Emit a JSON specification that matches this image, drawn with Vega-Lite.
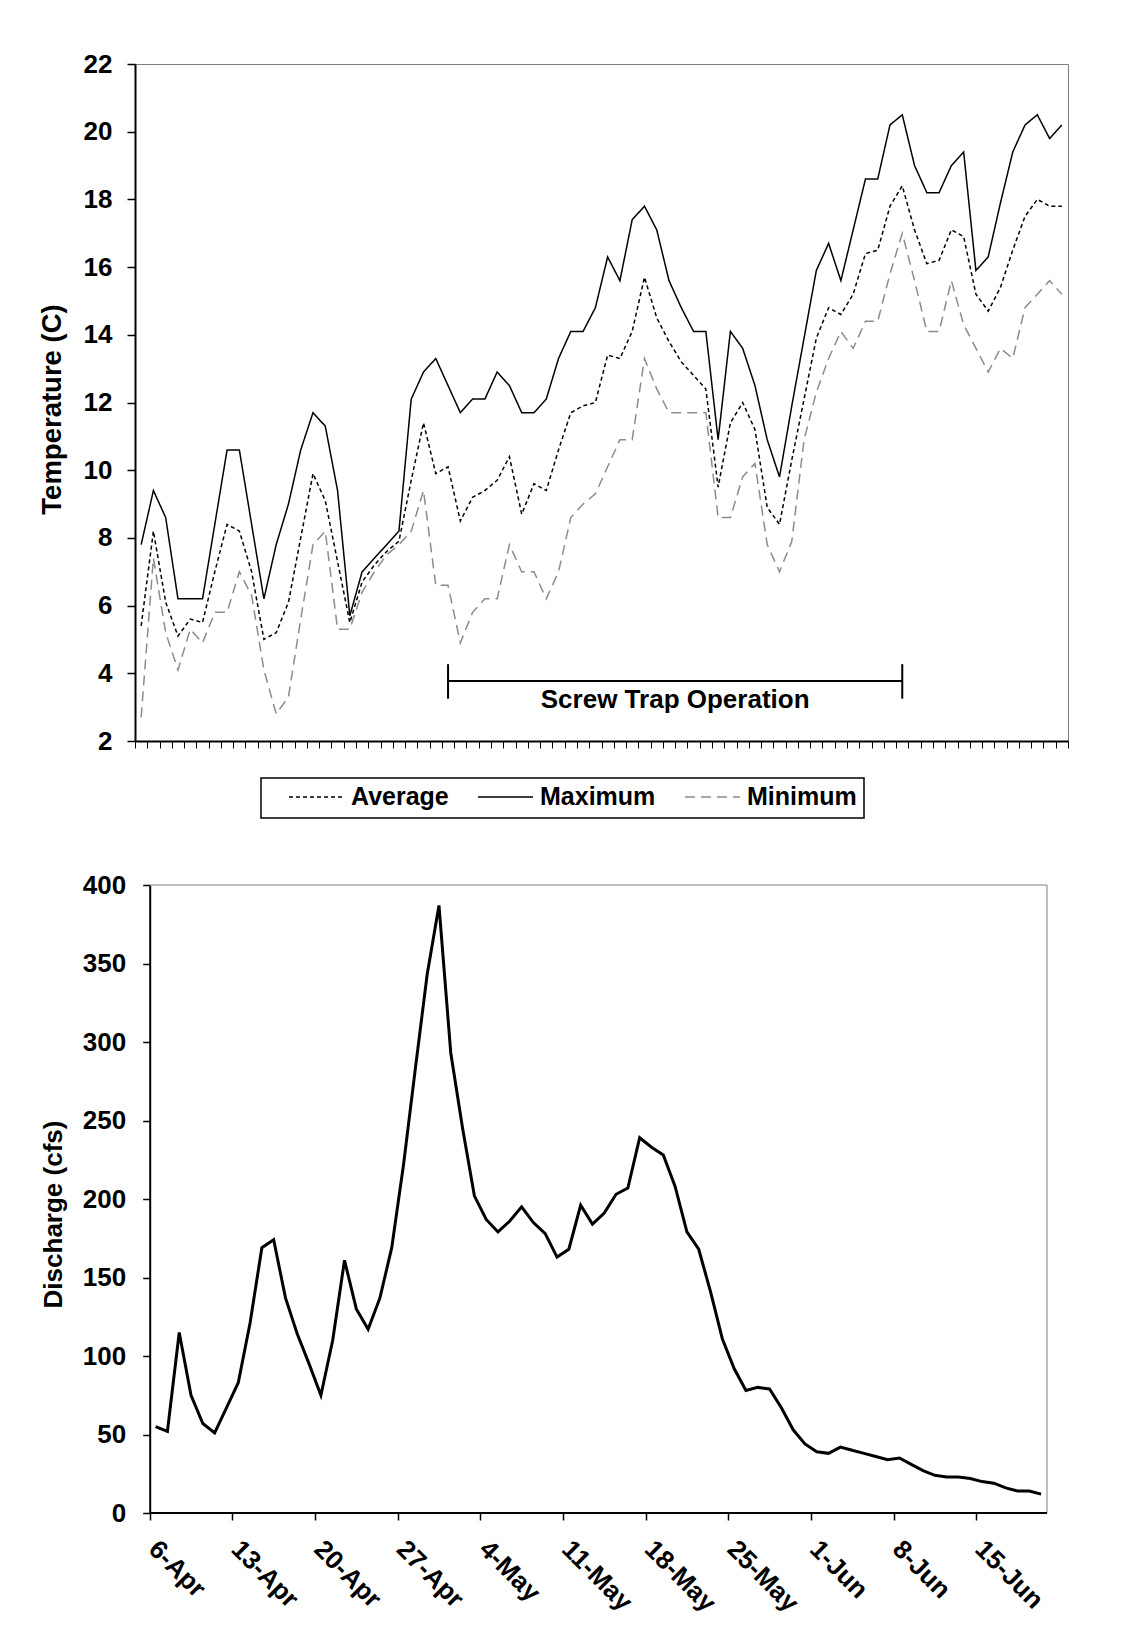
{
  "$schema": "https://vega.github.io/schema/vega-lite/v6.json",
  "background": "white",
  "padding": {"left": 37, "top": 50, "right": 0, "bottom": 0},
  "config": {
    "font": "Liberation Sans",
    "view": {"stroke": "#808080", "strokeWidth": 1},
    "axis": {
      "labelFont": "Liberation Sans", "labelFontWeight": "bold", "labelFontSize": 26, "labelColor": "black",
      "titleFont": "Liberation Sans", "titleFontWeight": "bold", "titleFontSize": 27, "titleColor": "black",
      "titleBaseline": "alphabetic",
      "domainColor": "black", "domainWidth": 2, "tickColor": "black", "tickWidth": 1.5, "grid": false
    },
    "legend": {
      "orient": "none", "legendX": 126, "legendY": 714, "direction": "horizontal",
      "labelFont": "Liberation Sans", "labelFontSize": 25, "labelFontWeight": "bold", "labelColor": "black",
      "titleFont": "Liberation Sans", "titleFontSize": 25, "titleOrient": "left", "titlePadding": 20,
      "symbolType": "stroke", "symbolSize": 3025, "symbolStrokeWidth": 1.5, "clipHeight": 24,
      "strokeColor": "black", "strokeWidth": 1.5, "padding": 7, "columnPadding": 28, "labelOffset": 6
    }
  },
  "datasets": {
    "temperature": [
      {"date": "2003-04-06T12:00:00", "Average": 5.4, "Maximum": 7.8, "Minimum": 2.7},
      {"date": "2003-04-07T12:00:00", "Average": 8.2, "Maximum": 9.4, "Minimum": 7.4},
      {"date": "2003-04-08T12:00:00", "Average": 6.1, "Maximum": 8.6, "Minimum": 5.2},
      {"date": "2003-04-09T12:00:00", "Average": 5.1, "Maximum": 6.2, "Minimum": 4.1},
      {"date": "2003-04-10T12:00:00", "Average": 5.6, "Maximum": 6.2, "Minimum": 5.3},
      {"date": "2003-04-11T12:00:00", "Average": 5.5, "Maximum": 6.2, "Minimum": 4.9},
      {"date": "2003-04-12T12:00:00", "Average": 7.0, "Maximum": 8.4, "Minimum": 5.8},
      {"date": "2003-04-13T12:00:00", "Average": 8.4, "Maximum": 10.6, "Minimum": 5.8},
      {"date": "2003-04-14T12:00:00", "Average": 8.2, "Maximum": 10.6, "Minimum": 7.0},
      {"date": "2003-04-15T12:00:00", "Average": 7.0, "Maximum": 8.4, "Minimum": 6.3},
      {"date": "2003-04-16T12:00:00", "Average": 5.0, "Maximum": 6.2, "Minimum": 4.1},
      {"date": "2003-04-17T12:00:00", "Average": 5.2, "Maximum": 7.8, "Minimum": 2.8},
      {"date": "2003-04-18T12:00:00", "Average": 6.1, "Maximum": 9.0, "Minimum": 3.3},
      {"date": "2003-04-19T12:00:00", "Average": 8.0, "Maximum": 10.6, "Minimum": 5.6},
      {"date": "2003-04-20T12:00:00", "Average": 9.9, "Maximum": 11.7, "Minimum": 7.8},
      {"date": "2003-04-21T12:00:00", "Average": 9.1, "Maximum": 11.3, "Minimum": 8.2},
      {"date": "2003-04-22T12:00:00", "Average": 7.3, "Maximum": 9.4, "Minimum": 5.3},
      {"date": "2003-04-23T12:00:00", "Average": 5.5, "Maximum": 5.7, "Minimum": 5.3},
      {"date": "2003-04-24T12:00:00", "Average": 6.7, "Maximum": 7.0, "Minimum": 6.4},
      {"date": "2003-04-25T12:00:00", "Average": 7.2, "Maximum": 7.4, "Minimum": 7.0},
      {"date": "2003-04-26T12:00:00", "Average": 7.6, "Maximum": 7.8, "Minimum": 7.5},
      {"date": "2003-04-27T12:00:00", "Average": 7.9, "Maximum": 8.2, "Minimum": 7.8},
      {"date": "2003-04-28T12:00:00", "Average": 9.7, "Maximum": 12.1, "Minimum": 8.2},
      {"date": "2003-04-29T12:00:00", "Average": 11.4, "Maximum": 12.9, "Minimum": 9.4},
      {"date": "2003-04-30T12:00:00", "Average": 9.9, "Maximum": 13.3, "Minimum": 6.6},
      {"date": "2003-05-01T12:00:00", "Average": 10.1, "Maximum": 12.5, "Minimum": 6.6},
      {"date": "2003-05-02T12:00:00", "Average": 8.5, "Maximum": 11.7, "Minimum": 4.9},
      {"date": "2003-05-03T12:00:00", "Average": 9.2, "Maximum": 12.1, "Minimum": 5.8},
      {"date": "2003-05-04T12:00:00", "Average": 9.4, "Maximum": 12.1, "Minimum": 6.2},
      {"date": "2003-05-05T12:00:00", "Average": 9.7, "Maximum": 12.9, "Minimum": 6.2},
      {"date": "2003-05-06T12:00:00", "Average": 10.4, "Maximum": 12.5, "Minimum": 7.8},
      {"date": "2003-05-07T12:00:00", "Average": 8.7, "Maximum": 11.7, "Minimum": 7.0},
      {"date": "2003-05-08T12:00:00", "Average": 9.6, "Maximum": 11.7, "Minimum": 7.0},
      {"date": "2003-05-09T12:00:00", "Average": 9.4, "Maximum": 12.1, "Minimum": 6.2},
      {"date": "2003-05-10T12:00:00", "Average": 10.6, "Maximum": 13.3, "Minimum": 7.0},
      {"date": "2003-05-11T12:00:00", "Average": 11.7, "Maximum": 14.1, "Minimum": 8.6},
      {"date": "2003-05-12T12:00:00", "Average": 11.9, "Maximum": 14.1, "Minimum": 9.0},
      {"date": "2003-05-13T12:00:00", "Average": 12.0, "Maximum": 14.8, "Minimum": 9.3},
      {"date": "2003-05-14T12:00:00", "Average": 13.4, "Maximum": 16.3, "Minimum": 10.1},
      {"date": "2003-05-15T12:00:00", "Average": 13.3, "Maximum": 15.6, "Minimum": 10.9},
      {"date": "2003-05-16T12:00:00", "Average": 14.1, "Maximum": 17.4, "Minimum": 10.9},
      {"date": "2003-05-17T12:00:00", "Average": 15.7, "Maximum": 17.8, "Minimum": 13.3},
      {"date": "2003-05-18T12:00:00", "Average": 14.5, "Maximum": 17.1, "Minimum": 12.4},
      {"date": "2003-05-19T12:00:00", "Average": 13.8, "Maximum": 15.6, "Minimum": 11.7},
      {"date": "2003-05-20T12:00:00", "Average": 13.2, "Maximum": 14.8, "Minimum": 11.7},
      {"date": "2003-05-21T12:00:00", "Average": 12.8, "Maximum": 14.1, "Minimum": 11.7},
      {"date": "2003-05-22T12:00:00", "Average": 12.4, "Maximum": 14.1, "Minimum": 11.7},
      {"date": "2003-05-23T12:00:00", "Average": 9.5, "Maximum": 10.9, "Minimum": 8.6},
      {"date": "2003-05-24T12:00:00", "Average": 11.4, "Maximum": 14.1, "Minimum": 8.6},
      {"date": "2003-05-25T12:00:00", "Average": 12.0, "Maximum": 13.6, "Minimum": 9.8},
      {"date": "2003-05-26T12:00:00", "Average": 11.2, "Maximum": 12.5, "Minimum": 10.2},
      {"date": "2003-05-27T12:00:00", "Average": 8.9, "Maximum": 10.9, "Minimum": 7.8},
      {"date": "2003-05-28T12:00:00", "Average": 8.4, "Maximum": 9.8, "Minimum": 7.0},
      {"date": "2003-05-29T12:00:00", "Average": 10.3, "Maximum": 11.9, "Minimum": 7.9},
      {"date": "2003-05-30T12:00:00", "Average": 12.1, "Maximum": 13.9, "Minimum": 10.9},
      {"date": "2003-05-31T12:00:00", "Average": 13.9, "Maximum": 15.9, "Minimum": 12.3},
      {"date": "2003-06-01T12:00:00", "Average": 14.8, "Maximum": 16.7, "Minimum": 13.3},
      {"date": "2003-06-02T12:00:00", "Average": 14.6, "Maximum": 15.6, "Minimum": 14.1},
      {"date": "2003-06-03T12:00:00", "Average": 15.2, "Maximum": 17.1, "Minimum": 13.6},
      {"date": "2003-06-04T12:00:00", "Average": 16.4, "Maximum": 18.6, "Minimum": 14.4},
      {"date": "2003-06-05T12:00:00", "Average": 16.5, "Maximum": 18.6, "Minimum": 14.4},
      {"date": "2003-06-06T12:00:00", "Average": 17.8, "Maximum": 20.2, "Minimum": 15.8},
      {"date": "2003-06-07T12:00:00", "Average": 18.4, "Maximum": 20.5, "Minimum": 17.0},
      {"date": "2003-06-08T12:00:00", "Average": 17.1, "Maximum": 19.0, "Minimum": 15.6},
      {"date": "2003-06-09T12:00:00", "Average": 16.1, "Maximum": 18.2, "Minimum": 14.1},
      {"date": "2003-06-10T12:00:00", "Average": 16.2, "Maximum": 18.2, "Minimum": 14.1},
      {"date": "2003-06-11T12:00:00", "Average": 17.1, "Maximum": 19.0, "Minimum": 15.6},
      {"date": "2003-06-12T12:00:00", "Average": 16.9, "Maximum": 19.4, "Minimum": 14.3},
      {"date": "2003-06-13T12:00:00", "Average": 15.2, "Maximum": 15.9, "Minimum": 13.6},
      {"date": "2003-06-14T12:00:00", "Average": 14.7, "Maximum": 16.3, "Minimum": 12.9},
      {"date": "2003-06-15T12:00:00", "Average": 15.4, "Maximum": 17.9, "Minimum": 13.6},
      {"date": "2003-06-16T12:00:00", "Average": 16.5, "Maximum": 19.4, "Minimum": 13.3},
      {"date": "2003-06-17T12:00:00", "Average": 17.5, "Maximum": 20.2, "Minimum": 14.8},
      {"date": "2003-06-18T12:00:00", "Average": 18.0, "Maximum": 20.5, "Minimum": 15.2},
      {"date": "2003-06-19T12:00:00", "Average": 17.8, "Maximum": 19.8, "Minimum": 15.6},
      {"date": "2003-06-20T12:00:00", "Average": 17.8, "Maximum": 20.2, "Minimum": 15.2}
    ],
    "discharge": [
      {"date": "2003-04-06T12:00:00", "cfs": 55},
      {"date": "2003-04-07T12:00:00", "cfs": 52},
      {"date": "2003-04-08T12:00:00", "cfs": 115},
      {"date": "2003-04-09T12:00:00", "cfs": 75},
      {"date": "2003-04-10T12:00:00", "cfs": 57},
      {"date": "2003-04-11T12:00:00", "cfs": 51},
      {"date": "2003-04-12T12:00:00", "cfs": 67},
      {"date": "2003-04-13T12:00:00", "cfs": 83},
      {"date": "2003-04-14T12:00:00", "cfs": 121},
      {"date": "2003-04-15T12:00:00", "cfs": 169},
      {"date": "2003-04-16T12:00:00", "cfs": 174},
      {"date": "2003-04-17T12:00:00", "cfs": 137},
      {"date": "2003-04-18T12:00:00", "cfs": 114},
      {"date": "2003-04-19T12:00:00", "cfs": 95},
      {"date": "2003-04-20T12:00:00", "cfs": 75},
      {"date": "2003-04-21T12:00:00", "cfs": 110},
      {"date": "2003-04-22T12:00:00", "cfs": 161},
      {"date": "2003-04-23T12:00:00", "cfs": 130},
      {"date": "2003-04-24T12:00:00", "cfs": 117},
      {"date": "2003-04-25T12:00:00", "cfs": 137},
      {"date": "2003-04-26T12:00:00", "cfs": 169},
      {"date": "2003-04-27T12:00:00", "cfs": 222},
      {"date": "2003-04-28T12:00:00", "cfs": 283},
      {"date": "2003-04-29T12:00:00", "cfs": 343},
      {"date": "2003-04-30T12:00:00", "cfs": 387},
      {"date": "2003-05-01T12:00:00", "cfs": 293},
      {"date": "2003-05-02T12:00:00", "cfs": 245},
      {"date": "2003-05-03T12:00:00", "cfs": 202},
      {"date": "2003-05-04T12:00:00", "cfs": 187},
      {"date": "2003-05-05T12:00:00", "cfs": 179},
      {"date": "2003-05-06T12:00:00", "cfs": 186},
      {"date": "2003-05-07T12:00:00", "cfs": 195},
      {"date": "2003-05-08T12:00:00", "cfs": 185},
      {"date": "2003-05-09T12:00:00", "cfs": 178},
      {"date": "2003-05-10T12:00:00", "cfs": 163},
      {"date": "2003-05-11T12:00:00", "cfs": 168},
      {"date": "2003-05-12T12:00:00", "cfs": 196},
      {"date": "2003-05-13T12:00:00", "cfs": 184},
      {"date": "2003-05-14T12:00:00", "cfs": 191},
      {"date": "2003-05-15T12:00:00", "cfs": 203},
      {"date": "2003-05-16T12:00:00", "cfs": 207},
      {"date": "2003-05-17T12:00:00", "cfs": 239},
      {"date": "2003-05-18T12:00:00", "cfs": 233},
      {"date": "2003-05-19T12:00:00", "cfs": 228},
      {"date": "2003-05-20T12:00:00", "cfs": 208},
      {"date": "2003-05-21T12:00:00", "cfs": 179},
      {"date": "2003-05-22T12:00:00", "cfs": 168},
      {"date": "2003-05-23T12:00:00", "cfs": 141},
      {"date": "2003-05-24T12:00:00", "cfs": 111},
      {"date": "2003-05-25T12:00:00", "cfs": 92},
      {"date": "2003-05-26T12:00:00", "cfs": 78},
      {"date": "2003-05-27T12:00:00", "cfs": 80},
      {"date": "2003-05-28T12:00:00", "cfs": 79},
      {"date": "2003-05-29T12:00:00", "cfs": 67},
      {"date": "2003-05-30T12:00:00", "cfs": 53},
      {"date": "2003-05-31T12:00:00", "cfs": 44},
      {"date": "2003-06-01T12:00:00", "cfs": 39},
      {"date": "2003-06-02T12:00:00", "cfs": 38},
      {"date": "2003-06-03T12:00:00", "cfs": 42},
      {"date": "2003-06-04T12:00:00", "cfs": 40},
      {"date": "2003-06-05T12:00:00", "cfs": 38},
      {"date": "2003-06-06T12:00:00", "cfs": 36},
      {"date": "2003-06-07T12:00:00", "cfs": 34},
      {"date": "2003-06-08T12:00:00", "cfs": 35},
      {"date": "2003-06-09T12:00:00", "cfs": 31},
      {"date": "2003-06-10T12:00:00", "cfs": 27},
      {"date": "2003-06-11T12:00:00", "cfs": 24},
      {"date": "2003-06-12T12:00:00", "cfs": 23},
      {"date": "2003-06-13T12:00:00", "cfs": 23},
      {"date": "2003-06-14T12:00:00", "cfs": 22},
      {"date": "2003-06-15T12:00:00", "cfs": 20},
      {"date": "2003-06-16T12:00:00", "cfs": 19},
      {"date": "2003-06-17T12:00:00", "cfs": 16},
      {"date": "2003-06-18T12:00:00", "cfs": 14},
      {"date": "2003-06-19T12:00:00", "cfs": 14},
      {"date": "2003-06-20T12:00:00", "cfs": 12}
    ],
    "trap": [
      {"start": "2003-05-01T12:00:00", "end": "2003-06-07T12:00:00", "mid": "2003-05-20T00:00:00", "label": "Screw Trap Operation"}
    ],
    "frame": [
      {"edge": "plot frame"}
    ]
  },
  "spacing": 117,
  "vconcat": [
    {
      "width": 933,
      "height": 677,
      "layer": [
        {
          "data": {"name": "temperature"},
          "transform": [{"fold": ["Average", "Maximum", "Minimum"], "as": ["series", "temp"]}],
          "mark": {"type": "line", "strokeWidth": 1.5},
          "encoding": {
            "x": {
              "field": "date", "type": "temporal",
              "scale": {"domain": [{"year": 2003, "month": 4, "date": 6}, {"year": 2003, "month": 6, "date": 21}]},
              "axis": {"title": null, "labels": false, "tickCount": {"interval": "day", "step": 1}, "tickSize": 7, "tickWidth": 1}
            },
            "y": {
              "field": "temp", "type": "quantitative",
              "scale": {"domain": [2, 22]},
              "axis": {
                "title": "Temperature (C)", "values": [2, 4, 6, 8, 10, 12, 14, 16, 18, 20, 22],
                "tickSize": 8, "labelPadding": 15, "titleFontSize": 27.5, "titleX": -75, "titleY": 345
              }
            },
            "color": {
              "field": "series", "type": "nominal",
              "scale": {"domain": ["Average", "Maximum", "Minimum"], "range": ["black", "black", "#8c8c8c"]},
              "legend": {"title": "\u2002", "labelExpr": "datum.label == 'Minimum' ? 'Minimum\u00a0\u00a0' : datum.label"}
            },
            "strokeDash": {
              "field": "series", "type": "nominal",
              "scale": {"domain": ["Average", "Maximum", "Minimum"], "range": [[4, 3], [1, 0], [10, 6]]},
              "legend": {"title": "\u2002", "labelExpr": "datum.label == 'Minimum' ? 'Minimum\u00a0\u00a0' : datum.label"}
            }
          }
        },
        {
          "data": {"name": "trap"},
          "mark": {"type": "rule", "color": "black", "strokeWidth": 2},
          "encoding": {
            "x": {"field": "start", "type": "temporal"},
            "x2": {"field": "end"},
            "y": {"datum": 3.77}
          }
        },
        {
          "data": {"name": "trap"},
          "transform": [{"fold": ["start", "end"], "as": ["edge", "at"]}],
          "mark": {"type": "rule", "color": "black", "strokeWidth": 2},
          "encoding": {
            "x": {"field": "at", "type": "temporal"},
            "y": {"datum": 3.25},
            "y2": {"datum": 4.27}
          }
        },
        {
          "data": {"name": "trap"},
          "mark": {"type": "text", "font": "Liberation Sans", "fontWeight": "bold", "fontSize": 26, "color": "black", "baseline": "alphabetic", "align": "center"},
          "encoding": {
            "x": {"field": "mid", "type": "temporal"},
            "y": {"datum": 2.97},
            "text": {"field": "label"}
          }
        }
      ]
    },
    {
      "width": 912,
      "height": 628,
      "view": {"stroke": null},
      "layer": [
        {
          "data": {"name": "frame"},
          "mark": {"type": "rule", "color": "#808080", "strokeWidth": 1},
          "encoding": {
            "x": {"datum": {"year": 2003, "month": 4, "date": 6}, "type": "temporal"},
            "x2": {"datum": {"year": 2003, "month": 6, "date": 21}},
            "y": {"datum": 400, "type": "quantitative"}
          }
        },
        {
          "data": {"name": "frame"},
          "mark": {"type": "rule", "color": "#808080", "strokeWidth": 1},
          "encoding": {
            "x": {"datum": {"year": 2003, "month": 6, "date": 21}, "type": "temporal"},
            "y": {"datum": 0, "type": "quantitative"},
            "y2": {"datum": 400}
          }
        },
        {
          "data": {"name": "discharge"},
          "mark": {"type": "line", "color": "black", "strokeWidth": 3},
          "encoding": {
            "x": {
              "field": "date", "type": "temporal",
              "scale": {"domain": [{"year": 2003, "month": 4, "date": 4, "hours": 18, "minutes": 6}, {"year": 2003, "month": 6, "date": 21}]},
              "axis": {
                "title": null, "domain": false, "format": "%-d-%b", "labelAngle": 45, "labelAlign": "left", "labelBaseline": "top",
                "tickSize": 7, "labelPadding": 15.5, "labelOffset": 12,
                "values": [
                  {"year": 2003, "month": 4, "date": 6}, {"year": 2003, "month": 4, "date": 13},
                  {"year": 2003, "month": 4, "date": 20}, {"year": 2003, "month": 4, "date": 27},
                  {"year": 2003, "month": 5, "date": 4}, {"year": 2003, "month": 5, "date": 11},
                  {"year": 2003, "month": 5, "date": 18}, {"year": 2003, "month": 5, "date": 25},
                  {"year": 2003, "month": 6, "date": 1}, {"year": 2003, "month": 6, "date": 8},
                  {"year": 2003, "month": 6, "date": 15}
                ]
              }
            },
            "y": {
              "field": "cfs", "type": "quantitative",
              "scale": {"domain": [0, 400]},
              "axis": {
                "title": "Discharge (cfs)", "values": [0, 50, 100, 150, 200, 250, 300, 350, 400], "offset": -14.7,
                "tickSize": 7, "labelPadding": 17, "titleFontSize": 26, "titleX": -88, "titleY": 329
              }
            }
          }
        },
        {
          "data": {"name": "frame"},
          "mark": {"type": "rule", "color": "black", "strokeWidth": 2},
          "encoding": {
            "x": {"datum": {"year": 2003, "month": 4, "date": 6}, "type": "temporal"},
            "x2": {"datum": {"year": 2003, "month": 6, "date": 21}},
            "y": {"datum": 0, "type": "quantitative"}
          }
        }
      ]
    }
  ]
}
